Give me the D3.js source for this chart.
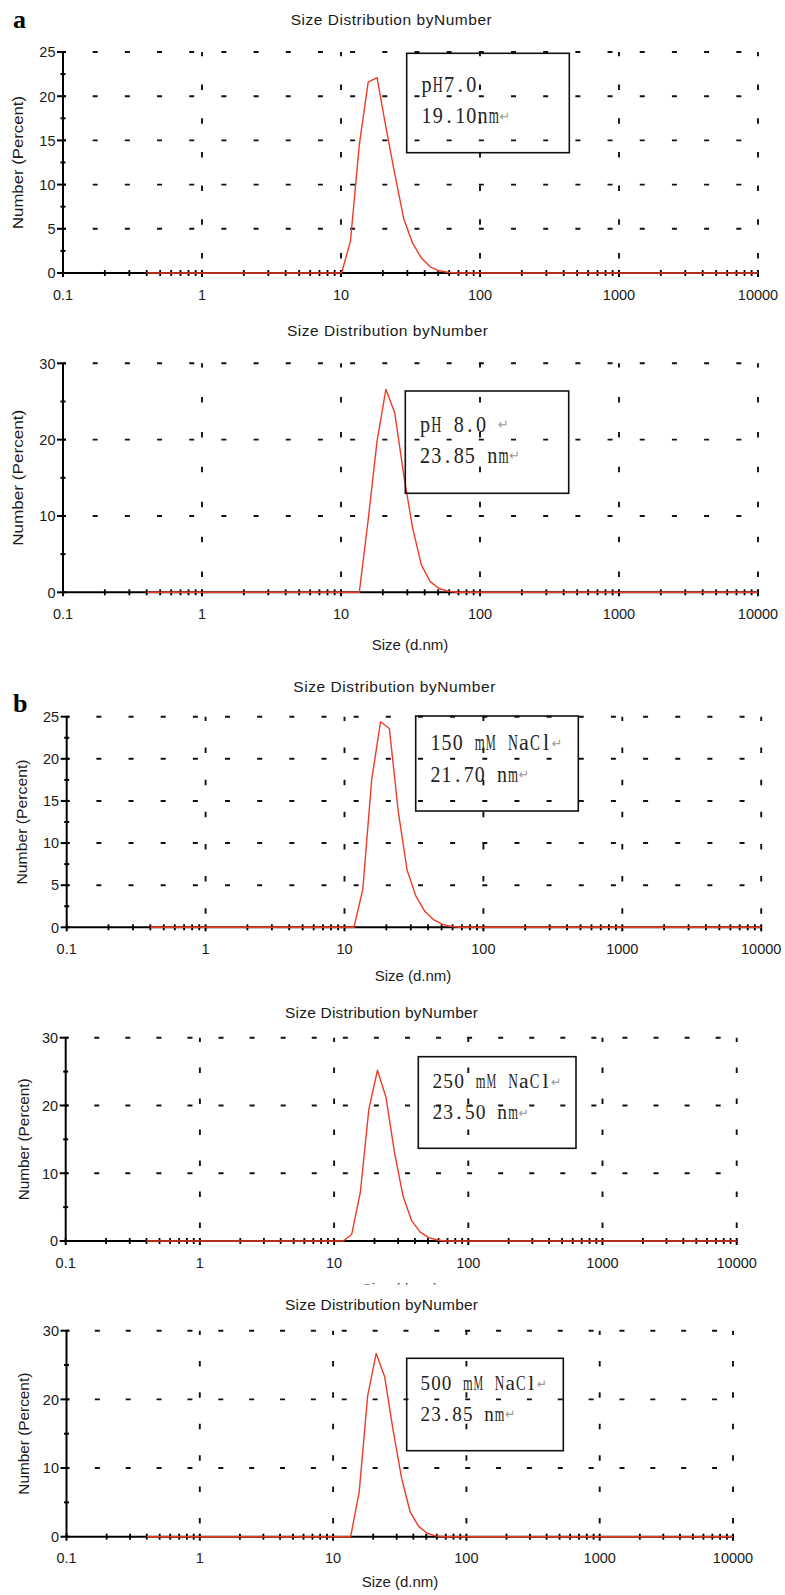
<!DOCTYPE html>
<html><head><meta charset="utf-8">
<script src="https://cdn.jsdelivr.net/npm/d3@7/dist/d3.min.js"></script>
<style>body{margin:0;background:#fff}svg{display:block}</style>
</head><body>
<svg id="fig" width="785" height="1595"></svg>
<script>
// ===== data =====
const xTickValues = [0.1, 1, 10, 100, 1000, 10000];
const xTickLabels = ["0.1", "1", "10", "100", "1000", "10000"];
const titleText = "Size Distribution byNumber";
const yAxisLabel = "Number (Percent)";
const xAxisLabel = "Size (d.nm)";
const panelLetters = ["a", "b"];

const sizesPH7 = [0.4, 10.1, 11.7, 13.54, 15.69, 18.17, 21.04, 24.36, 28.21, 32.67, 37.84, 43.82, 50.75, 58.77, 68.06, 10000];
const valuesPH7 = [0, 0, 3.6, 14.5, 21.6, 22.1, 16.5, 11.2, 6.2, 3.4, 1.7, 0.7, 0.25, 0.08, 0, 0];

const sizesPH8 = [0.4, 13.54, 15.69, 18.17, 21.04, 24.36, 28.21, 32.67, 37.84, 43.82, 50.75, 58.77, 68.06, 10000];
const valuesPH8 = [0, 0, 9.5, 19.8, 26.6, 23.5, 15.5, 8.5, 3.6, 1.4, 0.5, 0.15, 0, 0];

const sizesNaCl150 = [0.4, 11.7, 13.54, 15.69, 18.17, 21.04, 24.36, 28.21, 32.67, 37.84, 43.82, 50.75, 58.77, 68.06, 10000];
const valuesNaCl150 = [0, 0, 4.5, 17.5, 24.4, 23.6, 13.8, 6.8, 3.7, 1.9, 0.9, 0.35, 0.1, 0, 0];

const sizesNaCl250 = [0.4, 11.7, 13.54, 15.69, 18.17, 21.04, 24.36, 28.21, 32.67, 37.84, 43.82, 50.75, 58.77, 68.06, 10000];
const valuesNaCl250 = [0, 0, 1.0, 7.2, 19.5, 25.2, 21.2, 13.0, 6.6, 3.0, 1.3, 0.5, 0.15, 0, 0];

const sizesNaCl500 = [0.4, 13.54, 15.69, 18.17, 21.04, 24.36, 28.21, 32.67, 37.84, 43.82, 50.75, 58.77, 68.06, 10000];
const valuesNaCl500 = [0, 0, 6.5, 20.5, 26.7, 23.3, 15.5, 8.5, 3.6, 1.5, 0.5, 0.12, 0, 0];

const yMaxima = [25, 30, 25, 30, 30];
const yMajorSteps = [5, 10, 5, 10, 10];

const boxLine1 = ["pH7.0", "pH 8.0 ↵", "150 mM NaCl↵", "250 mM NaCl↵", "500 mM NaCl↵"];
const boxLine2 = ["19.10nm↵", "23.85 nm↵", "21.70 nm↵", "23.50 nm↵", "23.85 nm↵"];

// ===== layout (positions / sizes only) =====
const layout = [
  {x0:63,   dec:139,   top:52,     bottom:273,    title:[290.7,25,201],   ylab:[22.5,133], xlab:null,
   box:[406.7,53.3,569.3,152.7], bt:[421,91.7,123.3,11.2,22.4], letter:[13,28,0]},
  {x0:63,   dec:139,   top:363.3,  bottom:592.3,  title:[287,336,201],    ylab:[23,136],   xlab:[410,650,false],
   box:[405.3,391,568.7,493.3], bt:[419.5,431.7,462.7,11.2,22.4]},
  {x0:66.7, dec:138.9, top:716.7,  bottom:927.3,  title:[293.3,692,202],  ylab:[27,125],   xlab:[413,981,false],
   box:[415.7,716,578.3,811], bt:[430,750,781.7,11.06,22.1], letter:[13,712,1]},
  {x0:65.7, dec:134.2, top:1037.7, bottom:1241,   title:[285,1018,193],   ylab:[28.5,122], xlab:[400,1294,true],
   box:[418.3,1056.7,576,1148.3], bt:[432,1088.3,1119.3,10.8,21.6]},
  {x0:66.5, dec:133.3, top:1330.7, bottom:1536.7, title:[285,1310,193],   ylab:[29,122],   xlab:[400,1587,false],
   box:[406.7,1358.3,563.3,1450.7], bt:[420,1390,1420.7,10.6,21.2]}
];

const series = [
  [sizesPH7, valuesPH7], [sizesPH8, valuesPH8], [sizesNaCl150, valuesNaCl150],
  [sizesNaCl250, valuesNaCl250], [sizesNaCl500, valuesNaCl500]
];

const svg = d3.select("#fig");
const SANS = "'Liberation Sans', Arial, sans-serif";
const SERIF = "'Liberation Serif', 'Times New Roman', serif";
const INK = "#1a1a1a";
const defs = svg.append("defs");

function drawBoxText(g, str, x0, baseline, cell, fs) {
  [...str].forEach((ch, i) => {
    if (ch === " ") return;
    const cx = x0 + cell * (i + 0.5);
    if (ch === "↵") {
      g.append("text").attr("x", cx).attr("y", baseline - 2.5)
        .attr("text-anchor", "middle").attr("fill", "#9a9a9a")
        .style("font-family", "'DejaVu Sans', sans-serif").style("font-size", (fs * 0.58) + "px")
        .text(ch);
      return;
    }
    const t = g.append("text").attr("text-anchor", "middle")
      .attr("transform", `translate(${cx},${baseline})`)
      .attr("fill", "#222")
      .style("font-family", SERIF).style("font-size", fs + "px").text(ch);
    const w = t.node().getComputedTextLength();
    const maxW = cell * 0.9;
    if (w > maxW) t.attr("transform", `translate(${cx},${baseline}) scale(${(maxW / w).toFixed(3)},1)`);
  });
}

layout.forEach((L, pi) => {
  const g = svg.append("g");
  const x = d3.scaleLog().domain([0.1, 10000]).range([L.x0, L.x0 + 5 * L.dec]);
  const y = d3.scaleLinear().domain([0, yMaxima[pi]]).range([L.bottom, L.top]);
  const xL = x.range()[0], xR = x.range()[1];
  const H = L.bottom - L.top;

  // title
  g.append("text").attr("x", L.title[0]).attr("y", L.title[1])
    .attr("textLength", L.title[2]).attr("lengthAdjust", "spacing")
    .attr("fill", INK).style("font-family", SANS).style("font-size", "15.5px")
    .text(titleText);

  // horizontal dashed grid
  const yMajors = d3.range(yMajorSteps[pi], yMaxima[pi] + 0.001, yMajorSteps[pi]);
  const hp = L.dec * 0.2315;
  g.selectAll(".hg").data(yMajors).join("line")
    .attr("x1", xL).attr("x2", xR + 3)
    .attr("y1", d => y(d)).attr("y2", d => y(d))
    .attr("stroke", "#111").attr("stroke-width", 1.9)
    .attr("stroke-dasharray", `5 ${(hp - 5).toFixed(2)}`).attr("stroke-dashoffset", 2.5);

  // vertical dashed grid
  const vp = H * 0.1525;
  g.selectAll(".vg").data(xTickValues.slice(1)).join("line")
    .attr("x1", d => x(d)).attr("x2", d => x(d))
    .attr("y1", L.top).attr("y2", L.bottom)
    .attr("stroke", "#111").attr("stroke-width", 1.9)
    .attr("stroke-dasharray", `5.5 ${(vp - 5.5).toFixed(2)}`).attr("stroke-dashoffset", 1.2);

  // axes
  g.append("line").attr("x1", xL).attr("x2", xL).attr("y1", L.top).attr("y2", L.bottom)
    .attr("stroke", "#000").attr("stroke-width", 2);
  g.append("line").attr("x1", xL).attr("x2", xR).attr("y1", L.bottom).attr("y2", L.bottom)
    .attr("stroke", "#000").attr("stroke-width", 2);

  // y ticks
  const yMinors = d3.range(yMajorSteps[pi] / 2, yMaxima[pi], yMajorSteps[pi]);
  g.selectAll(".ymaj").data([0, ...yMajors]).join("line")
    .attr("x1", xL - 6).attr("x2", xL + 3).attr("y1", d => y(d)).attr("y2", d => y(d))
    .attr("stroke", "#000").attr("stroke-width", 2);
  g.selectAll(".ymin").data(yMinors).join("line")
    .attr("x1", xL - 2.5).attr("x2", xL + 2.5).attr("y1", d => y(d)).attr("y2", d => y(d))
    .attr("stroke", "#000").attr("stroke-width", 2);
  g.selectAll(".ylab").data([0, ...yMajors]).join("text")
    .attr("x", xL - 7.5).attr("y", d => y(d) + 5.3).attr("text-anchor", "end")
    .attr("fill", INK).style("font-family", SANS).style("font-size", "14.5px")
    .text(d => d);

  // x ticks
  const minorX = [];
  xTickValues.slice(0, 5).forEach(dv => { for (let m = 2; m <= 9; m++) minorX.push(dv * m); });
  g.selectAll(".xmin").data(minorX).join("line")
    .attr("x1", d => x(d)).attr("x2", d => x(d)).attr("y1", L.bottom - 3).attr("y2", L.bottom + 3)
    .attr("stroke", "#000").attr("stroke-width", 1.8);
  g.selectAll(".xmaj").data(xTickValues).join("line")
    .attr("x1", d => x(d)).attr("x2", d => x(d)).attr("y1", L.bottom - 3).attr("y2", L.bottom + 4)
    .attr("stroke", "#000").attr("stroke-width", 2);
  g.selectAll(".xlab").data(xTickValues).join("text")
    .attr("x", d => x(d)).attr("y", L.bottom + 26.5).attr("text-anchor", "middle")
    .attr("fill", INK).style("font-family", SANS).style("font-size", "14.5px")
    .text((d, i) => xTickLabels[i]);

  // y axis label
  g.append("text")
    .attr("transform", `translate(${L.ylab[0]},${(L.top + L.bottom) / 2}) rotate(-90)`)
    .attr("text-anchor", "middle").attr("textLength", L.ylab[1]).attr("lengthAdjust", "spacingAndGlyphs")
    .attr("fill", INK).style("font-family", SANS).style("font-size", "15.5px")
    .text(yAxisLabel);

  // x axis label
  if (L.xlab) {
    const t = g.append("text").attr("x", L.xlab[0]).attr("y", L.xlab[1]).attr("text-anchor", "middle")
      .attr("fill", INK).style("font-family", SANS).style("font-size", "15px").text(xAxisLabel);
    if (L.xlab[2]) {
      const cid = "clipx" + pi;
      defs.append("clipPath").attr("id", cid).append("rect")
        .attr("x", 0).attr("y", 0).attr("width", 785).attr("height", L.xlab[1] - 9.5);
      t.attr("clip-path", `url(#${cid})`);
    }
  }

  // data line
  const [sz, vals] = series[pi];
  const pts = sz.map((s, i) => [s, vals[i]]);
  g.append("path").datum(pts)
    .attr("d", d3.line().x(d => x(d[0])).y(d => y(d[1])))
    .attr("fill", "none").attr("stroke", "#ef3b25").attr("stroke-width", 1.4)
    .attr("stroke-linejoin", "round");

  // annotation box
  const b = L.box;
  g.append("rect").attr("x", b[0]).attr("y", b[1]).attr("width", b[2] - b[0]).attr("height", b[3] - b[1])
    .attr("fill", "none").attr("stroke", "#111").attr("stroke-width", 1.6);
  const bt = L.bt;
  drawBoxText(g, boxLine1[pi], bt[0], bt[1], bt[3], bt[4]);
  drawBoxText(g, boxLine2[pi], bt[0], bt[2], bt[3], bt[4]);

  // panel letter
  if (L.letter) {
    g.append("text").attr("x", L.letter[0]).attr("y", L.letter[1])
      .attr("fill", "#000").style("font-family", SERIF).style("font-weight", "bold").style("font-size", "26px")
      .text(panelLetters[L.letter[2]]);
  }
});
</script>
</body></html>
